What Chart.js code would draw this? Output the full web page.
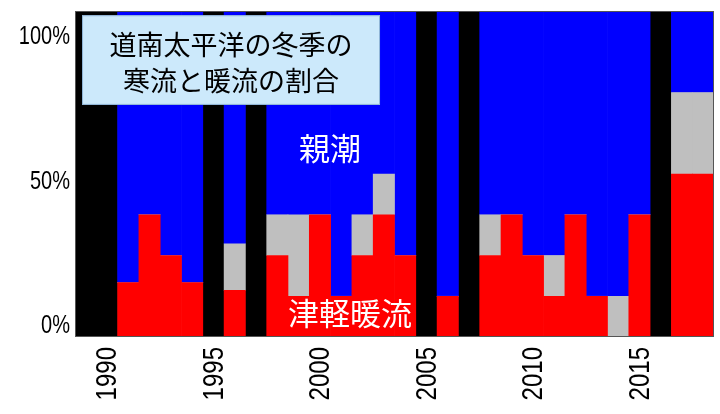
<!DOCTYPE html>
<html>
<head>
<meta charset="utf-8">
<script src="https://cdn.jsdelivr.net/npm/chart.js@4/dist/chart.umd.min.js"></script>
<style>
  html, body { margin: 0; padding: 0; background: #fff; }
  #wrap { width: 720px; height: 414px; }
</style>
</head>
<body>
<div id="wrap"><canvas id="c"></canvas></div>
<script>
// winter ratio of cold (Oyashio) vs warm (Tsugaru) water, southern Hokkaido Pacific
const years = []
for (let y = 1989; y <= 2018; y++) years.push(String(y))

// percent, null = no value that year
const warm = [null, null, 16.7, 37.5, 25, 16.7, null, 14.3, null, 25, 12.5, 37.5, 12.5, 25, 37.5, 25, null, 12.5, null, 25, 37.5, 25, 12.5, 37.5, 12.5, 0, 37.5, null, 50, 50]
const mixed = [null, null, 0, 0, 0, 0, null, 14.3, null, 12.5, 25, 0, 0, 12.5, 12.5, 0, null, 0, null, 12.5, 0, 0, 12.5, 0, 0, 12.5, 0, null, 25, 25]
const cold = [null, null, 83.3, 62.5, 75, 83.3, null, 71.4, null, 62.5, 62.5, 62.5, 87.5, 62.5, 50, 75, null, 87.5, null, 62.5, 62.5, 75, 75, 62.5, 87.5, 87.5, 62.5, null, 25, 25]
const noData = [100, 100, null, null, null, null, 100, null, 100, null, null, null, null, null, null, null, 100, null, 100, null, null, null, null, null, null, null, null, 100, null, null]

const yTicks = [0, 50, 100]

const titleLines = ['道南太平洋の冬季の', '寒流と暖流の割合']
const coldLabel = '親潮'
const warmLabel = '津軽暖流'

const cjk = '"Noto Sans CJK JP", "Noto Sans", sans-serif'
const latin = '"Liberation Sans", Arial, sans-serif'
const squeeze = 0.8 // the original tick font is a narrow one

// narrow text: squeeze along the writing direction
function narrowText(ctx, text, x, y, angle) {
    ctx.save()
    ctx.translate(x, y)
    ctx.rotate(angle)
    ctx.scale(squeeze, 1)
    ctx.fillText(text, 0, 0)
    ctx.restore()
}

// frame, text boxes and tick labels on top of the bars
const overlay = {
    id: 'overlay',
    afterDatasetsDraw(chart) {
        const ctx = chart.ctx
        const x = chart.scales.x
        const y = chart.scales.y
        const yl = chart.scales.yl
        const a = chart.chartArea

        ctx.save()
        // title box
        const bx0 = x.getPixelForValue(-0.17), bx1 = x.getPixelForValue(13.82)
        const by0 = y.getPixelForValue(98.7), by1 = y.getPixelForValue(71.2)
        ctx.fillStyle = '#cce9fb'
        ctx.fillRect(bx0, by0, bx1 - bx0, by1 - by0)
        ctx.strokeStyle = '#8fb4d6'
        ctx.lineWidth = 1
        ctx.strokeRect(bx0 + 0.5, by0 + 0.5, bx1 - bx0 - 1, by1 - by0 - 1)

        ctx.fillStyle = '#000'
        ctx.font = '27px ' + cjk
        ctx.textAlign = 'center'
        ctx.textBaseline = 'middle'
        const cx = (bx0 + bx1) / 2
        ctx.fillText(titleLines[0], cx, y.getPixelForValue(89.5))
        ctx.fillText(titleLines[1], cx, y.getPixelForValue(78.5))

        ctx.fillStyle = '#fff'
        ctx.font = '31px ' + cjk
        ctx.fillText(coldLabel, x.getPixelForValue(11.47), y.getPixelForValue(58))
        ctx.fillText(warmLabel, x.getPixelForValue(12.41), y.getPixelForValue(7.2))

        // plot frame
        ctx.strokeStyle = '#555'
        ctx.lineWidth = 1
        ctx.strokeRect(a.left + 0.5, a.top + 0.5, a.right - a.left - 1, a.bottom - a.top - 1)

        // y tick labels
        ctx.fillStyle = '#000'
        ctx.font = '25px ' + latin
        ctx.textAlign = 'right'
        ctx.textBaseline = 'middle'
        yl.ticks.forEach(t => {
            narrowText(ctx, t.value + '%', a.left - 5, yl.getPixelForValue(t.value), 0)
        })

        // x tick labels, rotated, reading upwards
        ctx.font = '30px ' + latin
        ctx.textAlign = 'right'
        ctx.textBaseline = 'middle'
        x.ticks.forEach((t, i) => {
            const lab = years[t.value]
            if (Number(lab) % 5 !== 0) return
            narrowText(ctx, lab, x.getPixelForValue(t.value) + 1, a.bottom + 10, -Math.PI / 2)
        })
        ctx.restore()
    }
}

const ctx = document.getElementById('c').getContext('2d')

const chart = new Chart(ctx, {
    type: 'bar',
    data: {
        labels: years,
        datasets: [
            { label: '津軽暖流', data: warm, backgroundColor: '#ff0000' },
            { label: '混合', data: mixed, backgroundColor: '#bfbfbf' },
            { label: '親潮', data: cold, backgroundColor: '#0000ff' },
            { label: '欠測', data: noData, backgroundColor: '#000000' }
        ]
    },
    options: {
        responsive: true,
        maintainAspectRatio: false,
        animation: false,
        layout: { padding: { top: 11, right: 6, left: 0, bottom: 0 } },
        datasets: {
            bar: { barPercentage: 1, categoryPercentage: 1, borderWidth: 0 }
        },
        plugins: {
            legend: { display: false },
            tooltip: { enabled: false }
        },
        scales: {
            x: {
                stacked: true,
                grid: { display: false },
                border: { display: false },
                ticks: { display: false },
                afterFit: s => { s.height = 77 }
            },
            y: {
                stacked: true,
                display: false,
                min: 0,
                max: 100
            },
            yl: {
                position: 'left',
                min: -3.8,
                max: 109.2,
                grid: { display: false },
                border: { display: false },
                afterFit: s => { s.width = 75 },
                afterBuildTicks: s => { s.ticks = yTicks.map(v => ({ value: v })) },
                ticks: { color: 'rgba(0,0,0,0)', font: { size: 1 }, padding: 0 }
            }
        }
    },
    plugins: [overlay]
})
</script>
</body>
</html>
